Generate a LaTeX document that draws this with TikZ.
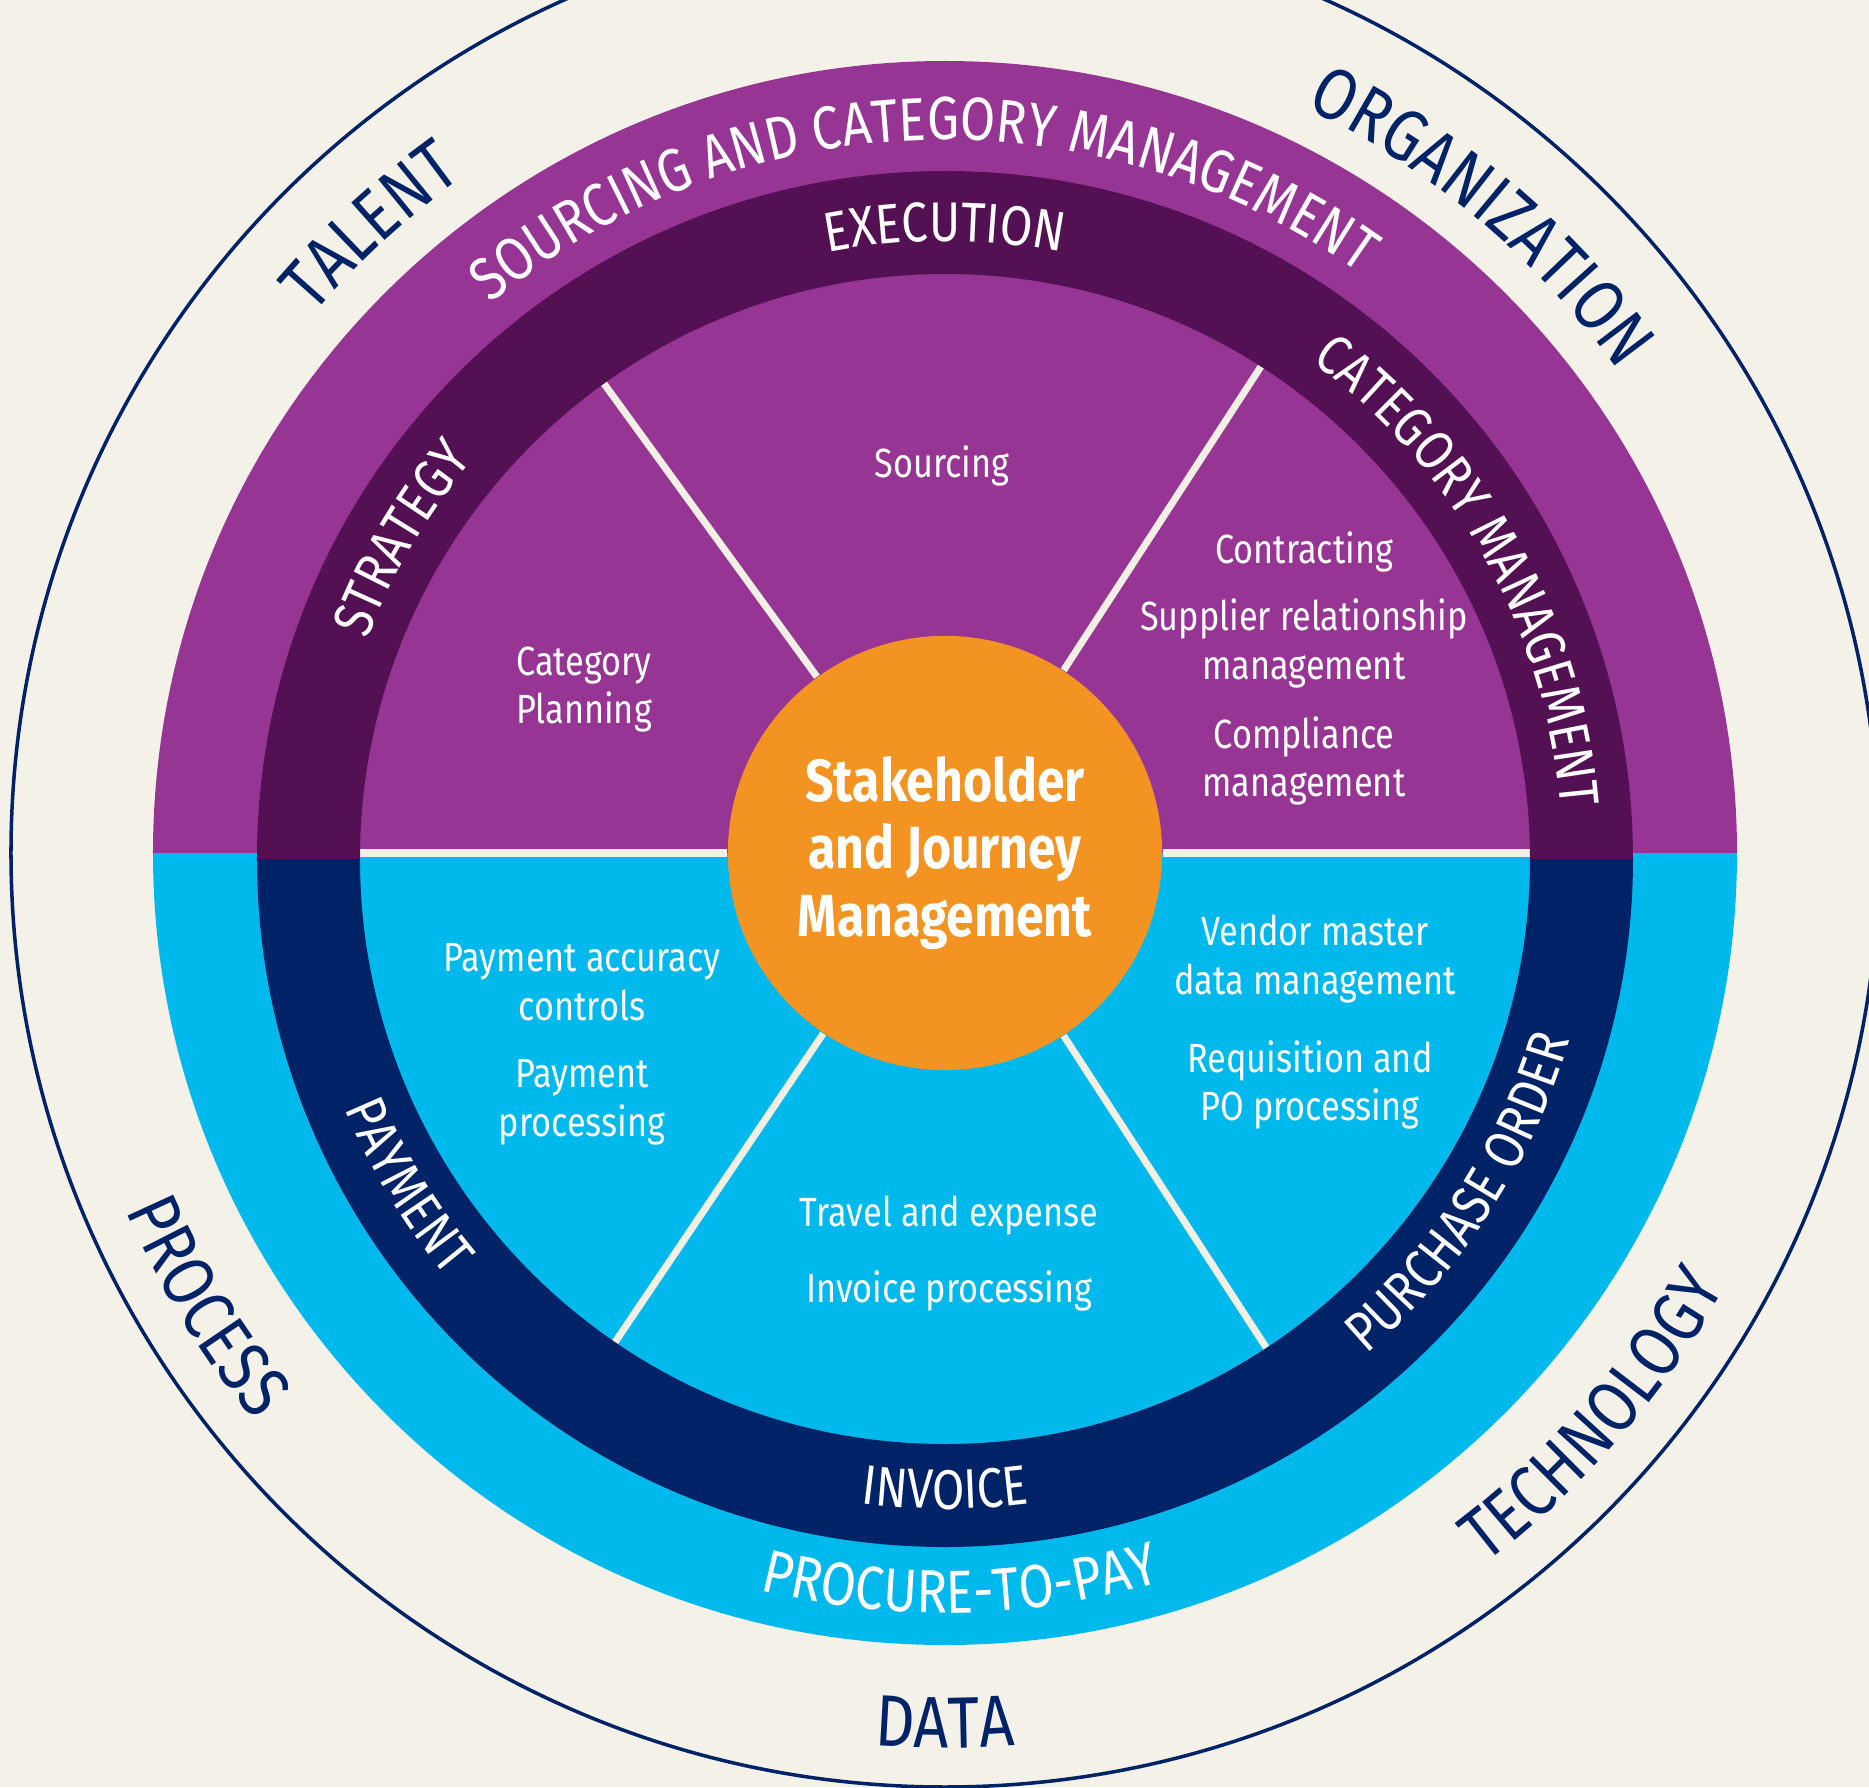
\documentclass[tikz,border=0pt]{standalone}
\usepackage{fontspec}
\setmainfont{Fira Sans}[FakeStretch=0.84]
\usetikzlibrary{decorations.text}

\definecolor{bgcream}{RGB}{244,242,232}
\definecolor{lightpurple}{RGB}{150,53,148}
\definecolor{darkpurple}{RGB}{83,17,84}
\definecolor{navyblue}{RGB}{0,34,102}
\definecolor{skyblue}{RGB}{0,185,236}
\definecolor{huborange}{RGB}{242,147,34}
\definecolor{linecream}{RGB}{242,239,228}

\newcommand{\ringfont}{\fontsize{15.9}{18}\selectfont\color{white}}
\newcommand{\bandfont}{\fontsize{17.3}{20}\selectfont\color{white}}
\newcommand{\outerfont}{\fontsize{20.7}{24}\selectfont\color{navyblue}}

\tikzset{
  divider/.style={draw=linecream, line width=2pt},
  sector/.style={text=white, align=center, anchor=base, font=\fontsize{11.6}{13.7}\selectfont},
  arctext/.style={decorate, decoration={text along path, text align=center, text={#1}}}
}

\begin{document}
\begin{tikzpicture}[x=0.01cm, y=0.01cm]

% background
\fill[bgcream] (-945,-934) rectangle (924,853);
\useasboundingbox (-945,-934) rectangle (924,853);

% outer disc
\fill[lightpurple] (-792,0) arc[start angle=180, end angle=0, radius=792] -- cycle;
\fill[skyblue] (-792,0) arc[start angle=180, end angle=360, radius=792] -- cycle;

% thin outer ring
\draw[navyblue, line width=1pt] (0,0) circle[radius=934];

% hub
\node[circle, fill=huborange, minimum size=4.34cm, inner sep=0pt, text=white, align=center,
  font=\bfseries\fontsize{16.9}{19.2}\selectfont] (hub) at (0,0) {Stakeholder\\and Journey\\Management};

% dividers
\foreach \a in {0,57,126,180,236,303}
  \draw[divider] (hub.\a) -- (\a:640);

% dark ring
\begin{scope}[shift={(0,-6)}]
  \begin{scope}
    \clip (-700,0) rectangle (700,700);
    \fill[darkpurple, even odd rule] (0,0) circle[radius=688] (0,0) circle[radius=585];
  \end{scope}
  \begin{scope}
    \clip (-700,0) rectangle (700,-700);
    \fill[navyblue, even odd rule] (0,0) circle[radius=688] (0,0) circle[radius=585];
  \end{scope}

  % ring labels
  \path[arctext={|\ringfont|EXECUTION}] (120:618) arc[start angle=120, end angle=60, radius=618];
  \path[arctext={|\ringfont|STRATEGY}] (174.5:618) arc[start angle=174.5, end angle=124.5, radius=618];
  \path[arctext={|\ringfont|CATEGORY MANAGEMENT}] (69.2:618) arc[start angle=69.2, end angle=-10.8, radius=618];
  \path[arctext={|\ringfont|PAYMENT}] (186.3:650) arc[start angle=186.3, end angle=236.3, radius=650];
  \path[arctext={|\ringfont|INVOICE}] (245:650) arc[start angle=245, end angle=295, radius=650];
  \path[arctext={|\ringfont|PURCHASE ORDER}] (292.1:650) arc[start angle=292.1, end angle=362.1, radius=650];
\end{scope}

% outer band labels
\path[arctext={|\bandfont|SOURCING AND CATEGORY MANAGEMENT}] (162:713) arc[start angle=162, end angle=22, radius=713];
\path[arctext={|\bandfont|PROCURE-TO-PAY}] (231.2:760) arc[start angle=231.2, end angle=311.2, radius=760];

% outside labels
\path[arctext={|\outerfont|TALENT}] (152.5:830) arc[start angle=152.5, end angle=112.5, radius=830];
\path[arctext={|\outerfont|ORGANIZATION}] (79.9:828) arc[start angle=79.9, end angle=19.9, radius=828];
\path[arctext={|\outerfont|PROCESS}] (186.5:894) arc[start angle=186.5, end angle=236.5, radius=894];
\path[arctext={|\outerfont|DATA}] (255:895) arc[start angle=255, end angle=285, radius=895];
\path[arctext={|\outerfont|TECHNOLOGY}] (289.1:893) arc[start angle=289.1, end angle=349.1, radius=893];

% sector texts (anchor sits on the last line)
\node[sector] (sourcing) at (-3,376) {Sourcing};
\node[sector] (planning) at (-361,129.6) {Category\\Planning};
\node[sector] (contract) at (359,289.7) {Contracting};
\node[sector] (supplier) at (359,174) {Supplier relationship\\management};
\node[sector] (compliance) at (359,56.5) {Compliance\\management};
\node[sector] (accuracy) at (-363,-167) {Payment accuracy\\controls};
\node[sector] (payproc) at (-363,-283.1) {Payment\\processing};
\node[sector] (vendor) at (370,-141) {Vendor master\\data management};
\node[sector] (requisition) at (365,-267.4) {Requisition and\\PO processing};
\node[sector] (travel) at (4,-373.4) {Travel and expense};
\node[sector] (invproc) at (4,-449.4) {Invoice processing};

\end{tikzpicture}
\end{document}
